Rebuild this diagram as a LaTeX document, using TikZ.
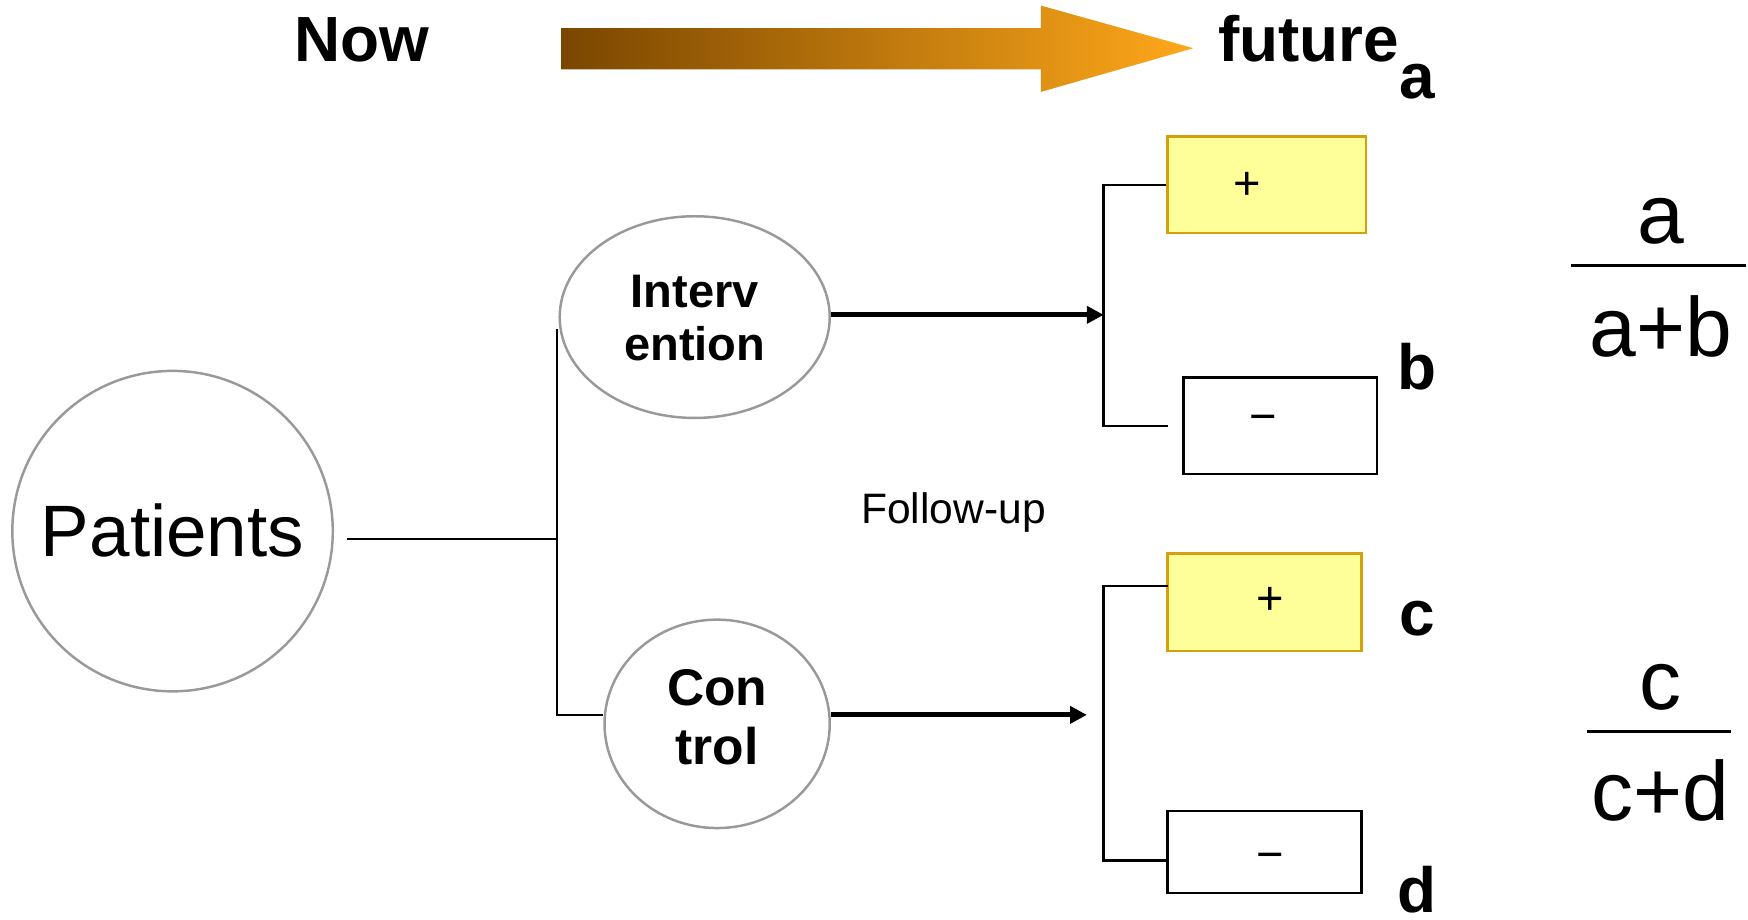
\documentclass[tikz,border=0pt]{standalone}
\usepackage{fontspec}
\setmainfont{Liberation Sans}
\usetikzlibrary{shapes.geometric,arrows.meta}
\definecolor{boxyellow}{HTML}{FFFF99}
\definecolor{boxgold}{HTML}{D4A010}
\definecolor{ringgray}{HTML}{999999}
\definecolor{arrdark}{HTML}{7A4600}
\definecolor{arrlight}{HTML}{FFA81A}
\newcommand{\fs}[1]{\fontsize{#1}{#1}\selectfont}
\tikzset{
  ring/.style={draw=ringgray, line width=2.2pt, inner sep=0pt},
  posbox/.style={draw=boxgold, fill=boxyellow, line width=2.2pt, inner sep=0pt},
  negbox/.style={draw=black, fill=white, line width=2.2pt, inner sep=0pt},
  thin line/.style={draw=black, line width=2.2pt},
  thick arrow/.style={draw=black, line width=4.5pt, -{Triangle[length=15pt,width=15pt]}},
  bigbold/.style={font=\fs{57}\bfseries, inner sep=0pt},
  fracfont/.style={font=\fs{75}, inner sep=0pt},
  signfont/.style={font=\fs{42}, inner sep=0pt},
}
\begin{document}
\begin{tikzpicture}[x=1pt,y=-1pt]
\useasboundingbox (0,0) rectangle (1560,821);
% top arrow
\shade[left color=arrdark, right color=arrlight]
  (501,25) -- (929,25) -- (929,5) -- (1065,43) -- (929,82) -- (929,62) -- (501,62) -- cycle;
\node[bigbold, anchor=base] (now) at (323,55) {Now};
\node[bigbold, anchor=base west] (fut) at (1087,55) {future\raisebox{-33pt}{a}};
% nodes
\node[ring, circle, minimum size=286pt] (P) at (154,474) {};
\node[font=\fs{65}, anchor=base] (Ptxt) at (154,497) {Patients};
\node[ring, ellipse, minimum width=241pt, minimum height=180pt] (I) at (620,283) {};
\node[font=\fs{42}\bfseries, anchor=base] (I1) at (620,274) {Interv};
\node[font=\fs{42}\bfseries, anchor=base] (I2) at (620,322) {ention};
\node[ring, ellipse, minimum width=201pt, minimum height=186pt] (C) at (640,646) {};
\node[font=\fs{46}\bfseries, anchor=base] (C1) at (640,630) {Con};
\node[font=\fs{46}\bfseries, anchor=base] (C2) at (640,682) {trol};
\node[font=\fs{38}, anchor=base] (fu) at (851,467) {Follow-up};
% result boxes
\node[posbox, minimum width=177pt, minimum height=86pt] (B1) at (1130.5,165) {};
\node[signfont, anchor=base] (B1t) at (1113,178) {+};
\node[negbox, minimum width=173pt, minimum height=86pt] (B2) at (1142.5,380) {};
\node[signfont, anchor=base] (B2t) at (1127,386) {−};
\node[posbox, minimum width=173pt, minimum height=87pt] (B3) at (1128.5,537.5) {};
\node[signfont, anchor=base] (B3t) at (1134,548) {+};
\node[negbox, minimum width=173pt, minimum height=73pt] (B4) at (1128.5,760.5) {};
\node[signfont, anchor=base] (B4t) at (1134,777) {−};
% letters
\node[bigbold, anchor=base] (lb) at (1265,348) {b};
\node[bigbold, anchor=base] (lc) at (1265,567) {c};
\node[bigbold, anchor=base, text depth=0pt] (ld) at (1265,814) {d};
% fractions
\node[fracfont, anchor=base] (fa) at (1482,217) {a};
\coordinate (fl1a) at (1402,237); \coordinate (fl1b) at (1558,237);
\draw[line width=2.5pt] (fl1a) -- (fl1b);
\node[fracfont, anchor=base] (fab) at (1482,318) {a+b};
\node[fracfont, anchor=base] (fc) at (1482,633) {c};
\coordinate (fl2a) at (1416,653); \coordinate (fl2b) at (1545,653);
\draw[line width=2.5pt] (fl2a) -- (fl2b);
\node[fracfont, anchor=base] (fcd) at (1482,732) {c+d};
% connectors from patients
\coordinate (pstart) at (310,481);
\coordinate (jmid) at (497,481);
\coordinate (jtop) at (497,295);
\coordinate (jbot) at (497,638);
\draw[thin line] (pstart) -- (jmid);
\draw[thin line] (I.west |- jtop) -- (jtop) -- (jbot) -- (C.west |- jbot);
% arrows to brackets
\coordinate (k1) at (985,281);
\coordinate (k2) at (970,638);
\draw[thick arrow] (I.east |- k1) -- (k1);
\draw[thick arrow] (C.east |- k2) -- (k2);
% brackets
\coordinate (r1) at (1042,380);
\coordinate (r3) at (1042,523);
\coordinate (r4) at (1042,768);
\draw[thin line] (B1.west) -- (985,165) -- (985,380) -- (r1);
\draw[thin line] (r3) -- (985,523) -- (985,768) -- (r4);
\end{tikzpicture}
\end{document}
